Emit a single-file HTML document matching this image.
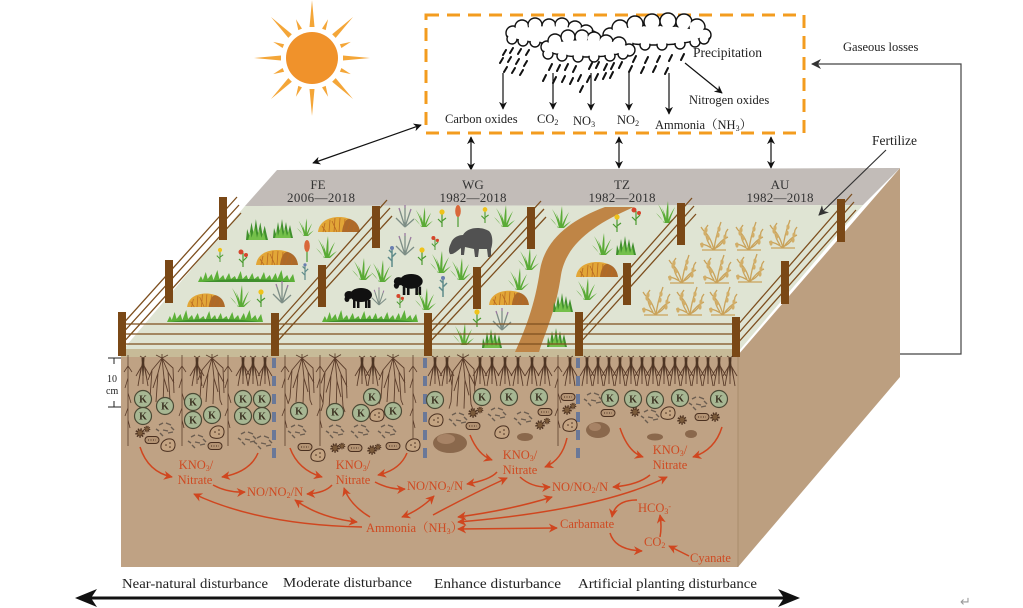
<!DOCTYPE html>
<html><head><meta charset="utf-8"><style>
html,body{margin:0;padding:0;background:#fff;}
svg{display:block;}
text{font-family:"Liberation Serif","Noto Serif CJK SC",serif;}
</style></head><body>
<svg width="1023" height="608" viewBox="0 0 1023 608" xmlns="http://www.w3.org/2000/svg">
<defs>
<marker id="ab" viewBox="0 0 10 10" refX="9" refY="5" markerWidth="8" markerHeight="8" markerUnits="userSpaceOnUse" orient="auto-start-reverse"><path d="M0,0 L10,5 L0,10 L3,5Z" fill="#111"/></marker>
<marker id="ag" viewBox="0 0 10 10" refX="9" refY="5" markerWidth="10" markerHeight="10" markerUnits="userSpaceOnUse" orient="auto-start-reverse"><path d="M0,0 L10,5 L0,10 L3,5Z" fill="#333"/></marker>
<marker id="ar" viewBox="0 0 10 10" refX="9" refY="5" markerWidth="9" markerHeight="9" markerUnits="userSpaceOnUse" orient="auto-start-reverse"><path d="M0,0 L10,5 L0,10 L3,5Z" fill="#d0461f"/></marker>

<g id="g"><path fill="#5aab36" d="M-1,0 Q-3,-10 -8,-19 Q-2,-11 1,0Z M0,0 Q0,-12 2,-22 Q3,-10 2,0Z M1,0 Q4,-9 9,-16 Q5,-7 3,0Z M-2,0 Q-5,-6 -10,-10 Q-5,-4 -1,0Z M2,0 Q6,-4 11,-7 Q6,-2 4,0Z M-1,0 Q-1,-8 -4,-15 Q0,-8 1,0Z"/></g>
<g id="b"><path fill="#3f8f2c" d="M-10,0 L-9,-10 L-7,-4 L-5,-16 L-3,-5 L-1,-19 L1,-6 L3,-16 L5,-5 L7,-13 L9,-4 L10,0Z"/><path fill="#74c04a" d="M-8,0 L-6,-8 L-5,-2 L-2,-12 L0,-2 L2,-10 L4,-2 L6,-8 L8,0Z"/></g>
<g id="d"><path fill="#e2a637" d="M-21,0 C-20,-10 -11,-15 0,-15 C11,-15 20,-10 21,0Z"/><path fill="#9a5527" opacity=".75" d="M3,0 C4,-8 7,-14 11,-13 C17,-11 20,-7 21,0Z"/><path fill="none" stroke="#b86a22" stroke-width=".8" d="M-16,0 L-14,-9 M-10,0 L-9,-12 M-5,0 L-4,-14 M0,0 L1,-14 M5,0 L6,-13 M-13,0 L-17,-6 M-2,0 L-7,-11 M8,0 L12,-12 M14,0 L16,-9"/></g>
<g id="L"><path fill="#5cb038" d="M0,0 L3,-6 L5,-2 L8,-10 L10,-3 L14,-8 L16,-2 L20,-12 L22,-3 L26,-7 L28,-2 L32,-9 L34,-3 L38,-6 L40,-2 L44,-11 L46,-3 L50,-7 L52,-2 L56,-9 L58,-3 L62,-6 L64,-2 L68,-10 L70,-3 L74,-7 L76,-2 L80,-9 L82,-3 L86,-12 L88,-3 L92,-7 L94,-2 L98,-8 L100,0Z"/><path fill="#3f8f2c" d="M4,0 C30,-4 70,-4 96,0Z"/></g>
<g id="fy"><path d="M0,0 L0,-14 M0,-4 L-4,-8 M0,-6 L4,-9" stroke="#4a9a30" stroke-width="1.2" fill="none"/><circle cx="0" cy="-15" r="2.6" fill="#efc21a"/></g>
<g id="fr"><path d="M0,0 L0,-14 M0,-4 L-4,-8 M0,-6 L4,-10" stroke="#4a9a30" stroke-width="1.2" fill="none"/><circle cx="-2" cy="-15" r="2.5" fill="#d6452c"/><circle cx="3" cy="-12" r="2" fill="#d6452c"/></g>
<g id="ft"><path d="M0,0 L0,-12" stroke="#4a9a30" stroke-width="1.2"/><ellipse cx="0" cy="-16" rx="2.8" ry="6" fill="#d9683a"/></g>
<g id="gp" fill="none" stroke="#7d8e86" stroke-width="1.3"><path d="M0,0 L-5,-16 M0,0 L0,-19 M0,0 L5,-15 M0,0 L-9,-9 M0,0 L9,-8"/><path stroke="#9a7aa0" d="M-5,-16 l-1,-3 M0,-19 l0,-3 M5,-15 l1,-3"/></g>
<g id="bp" fill="none" stroke="#5f8b8a" stroke-width="1.5"><path d="M0,0 L0,-18 M0,-6 L-4,-10 M0,-10 L4,-14 M0,-14 L-3,-17"/><circle cx="0" cy="-19" r="2" fill="#6a7fb0" stroke="none"/></g>
<g id="w" fill="none" stroke="#c9a25a" stroke-width="1.3"><path d="M0,0 C-2,-8 -5,-15 -11,-20 M0,0 C1,-9 3,-17 6,-25 M0,0 C4,-6 9,-11 14,-13 M0,0 C-5,-4 -10,-6 -14,-6 M-3,-3 C-7,-9 -9,-14 -8,-22 M2,-2 C7,-5 11,-9 12,-18 M-11,-20 l-2,-3 M6,-25 l1,-3 M-8,-22 l2,-3 M12,-18 l2,-3 M-12,0 L12,0"/><g fill="#d2ae68" stroke="none"><ellipse cx="-9" cy="-17" rx="1.6" ry="2.6"/><ellipse cx="-6" cy="-12" rx="1.6" ry="2.6"/><ellipse cx="5" cy="-21" rx="1.6" ry="2.6"/><ellipse cx="4" cy="-15" rx="1.6" ry="2.6"/><ellipse cx="11" cy="-13" rx="1.6" ry="2.6"/><ellipse cx="10" cy="-8" rx="1.6" ry="2.6"/><ellipse cx="-8" cy="-20" rx="1.6" ry="2.6"/><ellipse cx="-12" cy="-5" rx="1.6" ry="2.6"/></g></g>
<g id="sh" fill="#111"><ellipse cx="3" cy="-13" rx="11" ry="7"/><ellipse cx="-9" cy="-13" rx="4.5" ry="4"/><ellipse cx="-11" cy="-9" rx="2.5" ry="3"/><rect x="-5" y="-8" width="2.5" height="8"/><rect x="-1" y="-8" width="2.5" height="8"/><rect x="7" y="-8" width="2.5" height="8"/><rect x="10" y="-8" width="2.5" height="8"/></g>
<g id="yk" fill="#515151"><path d="M-20,-14 C-18,-20 -12,-22 -8,-22 C-4,-30 10,-31 18,-26 C22,-22 22,-14 20,-8 L20,0 L17,0 L16,-8 L8,-8 L7,0 L4,0 L3,-8 L-6,-10 L-7,-2 L-10,-2 L-10,-9 C-14,-6 -18,-2 -21,-3 C-23,-6 -22,-10 -20,-14Z"/></g>

<g id="rf" stroke="#4a2c1c" stroke-width=".9" fill="none"><path d="M0,0 L0,26 M0,2 L-4,22 M0,2 L4,22 M0,6 L-7,18 M0,6 L7,18 M-2,10 L-5,28 M2,10 L5,28 M-3,-2 L0,0 L3,-2"/><path d="M-1.5,0 L1.5,0 L0.5,18 L-0.5,18Z" fill="#3a2214" stroke="none"/></g>
<g id="rb" stroke="#4a2c1c" stroke-width=".9" fill="none"><path d="M0,0 L-10,12 L-12,40 M0,0 L-4,15 L-6,44 M0,0 L2,20 L1,46 M0,0 L6,14 L8,42 M0,0 L11,10 L12,35 M-10,12 L-14,22 M6,14 L12,25 M-4,15 L-9,30 M2,20 L6,34 M-6,-3 L0,0 L6,-3 M0,0 L0,-4 M-12,40 l-2,6 M8,42 l2,5"/></g>
<g id="rt" stroke="#4a2c1c" stroke-width=".8" fill="none"><path d="M0,-3 L0,88 M0,20 L-3,30 M0,35 L3,45 M0,50 L-3,58 M0,62 L2,70 M0,8 L-4,14 M0,8 L4,14"/></g>

<g id="K"><circle r="8.5" fill="#a7b793" stroke="#4b4a35" stroke-width="1.2"/><text x="0" y="3.5" font-size="10" font-weight="bold" text-anchor="middle" fill="#3a3020">K</text></g>
<g id="rods" stroke="#6b5d50" stroke-width="1.4" fill="none"><path d="M-6,-3 l4,-2 M-2,2 l5,1 M1,-5 l5,2 M-5,5 l3,3 M3,5 l5,-1 M-9,1 l3,2 M6,-1 l3,3"/></g>
<g id="pill"><rect x="-7" y="-3.5" width="14" height="7" rx="3.5" fill="#b39373" stroke="#4a3020" stroke-width="1"/><path d="M-4,0 h8" stroke="#4a3020" stroke-dasharray="1 1.5"/></g>
<g id="am"><path d="M-7,3 C-8,-3 -2,-7 3,-6 C8,-5 8,2 5,5 C2,7 -6,7 -7,3Z" fill="#c4a482" stroke="#4a3020" stroke-width="1"/><circle cx="-2" cy="0" r=".8" fill="#4a3020"/><circle cx="2" cy="-2" r=".8" fill="#4a3020"/><circle cx="2" cy="2" r=".8" fill="#4a3020"/></g>
<g id="vir"><circle r="3.5" fill="#7a5a3a" stroke="#4a3020" stroke-width="2.5" stroke-dasharray="1.2 1.2"/></g>
</defs>

<rect width="1023" height="608" fill="#fff"/>

<!-- Sun -->
<g transform="translate(312,58)" fill="#f4a638">
<path d="M-2.5,-31 L0,-58 L2.5,-31Z"/><path d="M-2,-31 L0,-42 L2,-31Z" transform="rotate(22.5)"/>
<path d="M-2.5,-31 L0,-58 L2.5,-31Z" transform="rotate(45)"/><path d="M-2,-31 L0,-42 L2,-31Z" transform="rotate(67.5)"/>
<path d="M-2.5,-31 L0,-58 L2.5,-31Z" transform="rotate(90)"/><path d="M-2,-31 L0,-42 L2,-31Z" transform="rotate(112.5)"/>
<path d="M-2.5,-31 L0,-58 L2.5,-31Z" transform="rotate(135)"/><path d="M-2,-31 L0,-42 L2,-31Z" transform="rotate(157.5)"/>
<path d="M-2.5,-31 L0,-58 L2.5,-31Z" transform="rotate(180)"/><path d="M-2,-31 L0,-42 L2,-31Z" transform="rotate(202.5)"/>
<path d="M-2.5,-31 L0,-58 L2.5,-31Z" transform="rotate(225)"/><path d="M-2,-31 L0,-42 L2,-31Z" transform="rotate(247.5)"/>
<path d="M-2.5,-31 L0,-58 L2.5,-31Z" transform="rotate(270)"/><path d="M-2,-31 L0,-42 L2,-31Z" transform="rotate(292.5)"/>
<path d="M-2.5,-31 L0,-58 L2.5,-31Z" transform="rotate(315)"/><path d="M-2,-31 L0,-42 L2,-31Z" transform="rotate(337.5)"/>
<circle r="26" fill="#f0922b"/>
</g>

<!-- Atmosphere box -->
<rect x="426" y="15" width="378" height="118" fill="none" stroke="#f39c1f" stroke-width="3" stroke-dasharray="13 8"/>

<!-- clouds: A -->
<g stroke="#111" stroke-width="1.4" fill="#fff">
<ellipse cx="548" cy="34" rx="40" ry="9"/>
<circle cx="513" cy="33" r="7"/><circle cx="522" cy="27" r="7"/><circle cx="535" cy="25" r="7"/><circle cx="549" cy="26" r="7"/><circle cx="562" cy="25" r="7"/><circle cx="575" cy="28" r="7"/><circle cx="586" cy="32" r="7"/><circle cx="592" cy="37" r="6"/>
<circle cx="512" cy="39" r="5"/><circle cx="523" cy="41" r="5"/><circle cx="535" cy="42" r="5"/><circle cx="550" cy="42" r="5"/><circle cx="565" cy="42" r="5"/><circle cx="580" cy="41" r="5"/>
</g>
<g fill="#fff">
<ellipse cx="548" cy="34" rx="38.8" ry="7.8"/>
<circle cx="513" cy="33" r="5.8"/><circle cx="522" cy="27" r="5.8"/><circle cx="535" cy="25" r="5.8"/><circle cx="549" cy="26" r="5.8"/><circle cx="562" cy="25" r="5.8"/><circle cx="575" cy="28" r="5.8"/><circle cx="586" cy="32" r="5.8"/><circle cx="592" cy="37" r="4.8"/>
<circle cx="512" cy="39" r="3.8"/><circle cx="523" cy="41" r="3.8"/><circle cx="535" cy="42" r="3.8"/><circle cx="550" cy="42" r="3.8"/><circle cx="565" cy="42" r="3.8"/><circle cx="580" cy="41" r="3.8"/>
</g>
<!-- C -->
<g stroke="#111" stroke-width="1.4" fill="#fff">
<ellipse cx="655" cy="35" rx="48" ry="10"/>
<circle cx="610" cy="35" r="7"/><circle cx="620" cy="28" r="8"/><circle cx="635" cy="24" r="8"/><circle cx="652" cy="22" r="8"/><circle cx="668" cy="21" r="8"/><circle cx="684" cy="22" r="8"/><circle cx="697" cy="27" r="8"/><circle cx="705" cy="35" r="6"/>
<circle cx="612" cy="41" r="5"/><circle cx="628" cy="44" r="5"/><circle cx="645" cy="45" r="5"/><circle cx="662" cy="45" r="5"/><circle cx="680" cy="44" r="5"/><circle cx="695" cy="42" r="5"/><circle cx="704" cy="39" r="5"/>
</g>
<g fill="#fff">
<ellipse cx="655" cy="35" rx="46.8" ry="8.8"/>
<circle cx="610" cy="35" r="5.8"/><circle cx="620" cy="28" r="6.8"/><circle cx="635" cy="24" r="6.8"/><circle cx="652" cy="22" r="6.8"/><circle cx="668" cy="21" r="6.8"/><circle cx="684" cy="22" r="6.8"/><circle cx="697" cy="27" r="6.8"/><circle cx="705" cy="35" r="4.8"/>
<circle cx="612" cy="41" r="3.8"/><circle cx="628" cy="44" r="3.8"/><circle cx="645" cy="45" r="3.8"/><circle cx="662" cy="45" r="3.8"/><circle cx="680" cy="44" r="3.8"/><circle cx="695" cy="42" r="3.8"/><circle cx="704" cy="39" r="3.8"/>
</g>
<!-- B -->
<g stroke="#111" stroke-width="1.4" fill="#fff">
<ellipse cx="587" cy="48" rx="42" ry="9"/>
<circle cx="547" cy="47" r="6"/><circle cx="555" cy="41" r="7"/><circle cx="568" cy="37" r="7"/><circle cx="582" cy="37" r="7"/><circle cx="594" cy="39" r="7"/><circle cx="606" cy="42" r="7"/><circle cx="619" cy="44" r="7"/><circle cx="629" cy="50" r="6"/>
<circle cx="548" cy="54" r="5"/><circle cx="562" cy="56" r="5"/><circle cx="578" cy="57" r="5"/><circle cx="594" cy="57" r="5"/><circle cx="610" cy="56" r="5"/><circle cx="623" cy="54" r="5"/>
</g>
<g fill="#fff">
<ellipse cx="587" cy="48" rx="40.8" ry="7.8"/>
<circle cx="547" cy="47" r="4.8"/><circle cx="555" cy="41" r="5.8"/><circle cx="568" cy="37" r="5.8"/><circle cx="582" cy="37" r="5.8"/><circle cx="594" cy="39" r="5.8"/><circle cx="606" cy="42" r="5.8"/><circle cx="619" cy="44" r="5.8"/><circle cx="629" cy="50" r="4.8"/>
<circle cx="548" cy="54" r="3.8"/><circle cx="562" cy="56" r="3.8"/><circle cx="578" cy="57" r="3.8"/><circle cx="594" cy="57" r="3.8"/><circle cx="610" cy="56" r="3.8"/><circle cx="623" cy="54" r="3.8"/>
</g>

<!-- rain -->
<g stroke="#111" stroke-width="2" stroke-linecap="round">
<path d="M506,50 l-3,5 M513,48 l-3,5 M521,49 l-3,5 M529,50 l-3,5 M503,58 l-3,5 M511,57 l-3,5 M519,59 l-3,5 M527,61 l-3,5 M507,67 l-3,5 M515,68 l-3,5 M523,70 l-3,5 M552,64 l-3,6 M560,65 l-3,6 M568,64 l-3,6 M576,66 l-3,6 M546,75 l-3,6 M556,77 l-3,6 M565,76 l-3,6 M573,78 l-3,6 M581,75 l-3,6 M592,63 l-3,6 M599,62 l-3,6 M607,64 l-3,6 M614,63 l-3,6 M622,62 l-3,6 M590,76 l-3,6 M598,74 l-3,6 M606,73 l-3,6 M613,72 l-3,6 M583,86 l-3,6 M636,56 l-3,6 M648,57 l-3,6 M660,56 l-3,6 M672,55 l-3,6 M684,54 l-3,6 M632,66 l-3,6 M644,67 l-3,6 M656,66 l-3,6 M668,68 l-3,6"/>
</g>
<g stroke="#111" stroke-width="1.2" fill="none" marker-end="url(#ab)">
<path d="M503,73 L503,109"/><path d="M553,73 L553,109"/><path d="M591,73 L591,110"/><path d="M629,73 L629,110"/><path d="M669,73 L669,114"/><path d="M685,63 L722,93"/>
</g>
<g font-size="12.5" fill="#222">
<text x="693" y="57" font-size="13.5">Precipitation</text>
<text x="689" y="104">Nitrogen oxides</text>
<text x="445" y="123">Carbon oxides</text>
<text x="537" y="123">CO<tspan font-size="8" dy="2">2</tspan></text>
<text x="573" y="125">NO<tspan font-size="8" dy="2">3</tspan></text>
<text x="617" y="124">NO<tspan font-size="8" dy="2">2</tspan></text>
<text x="655" y="129">Ammonia（NH<tspan font-size="8" dy="2">3</tspan><tspan dy="-2">）</tspan></text>
</g>

<!-- connection arrows -->
<g stroke="#111" stroke-width="1.2" fill="none" marker-start="url(#ab)" marker-end="url(#ab)">
<path d="M313,163 L421,125"/><path d="M471,137 L471,170"/><path d="M619,137 L619,168"/><path d="M771,137 L771,168"/>
</g>
<text x="843" y="51" font-size="12.5" fill="#222">Gaseous losses</text>
<path d="M900,354 L961,354 L961,64 L812,64" fill="none" stroke="#444" stroke-width="1.2" marker-end="url(#ag)"/>
<text x="872" y="145" font-size="13.5" fill="#222">Fertilize</text>

<!-- Block -->
<polygon points="900,168 900,377 738,567 738,355" fill="#bc9f80"/>
<rect x="121" y="355" width="617" height="212" fill="#bfa284"/>
<line x1="738" y1="355" x2="738" y2="567" stroke="#a88c6c" stroke-width="1"/>
<polygon points="277,170 900,168 863,205 245,206" fill="#c2bcb8"/>
<polygon points="245,206 863,205 738,352 121,352" fill="#dfe4d3"/>
<rect x="121" y="349" width="617" height="8" fill="#c7bb98"/>

<!-- band labels -->
<g font-size="13" fill="#333" text-anchor="middle">
<text x="318" y="189">FE</text><text x="321" y="202" textLength="68">2006—2018</text>
<text x="473" y="189">WG</text><text x="473" y="202" textLength="67">1982—2018</text>
<text x="622" y="189">TZ</text><text x="622" y="202" textLength="67">1982—2018</text>
<text x="780" y="189">AU</text><text x="780" y="202" textLength="67">1982—2018</text>
</g>

<!-- road -->
<path d="M605,207 L634,207 C592,225 566,245 561,275 C556,310 546,330 539,352 L515,352 C525,330 535,305 540,270 C545,240 570,220 605,207Z" fill="#bf8546"/>

<!-- vegetation FE -->
<use href="#b" transform="translate(257,240) scale(1.1)"/>
<use href="#b" transform="translate(283,238)"/>
<use href="#g" transform="translate(305,236) scale(.8)"/>
<use href="#d" transform="translate(339,232)"/>
<use href="#fy" transform="translate(220,262) scale(.8)"/>
<use href="#fr" transform="translate(243,267)"/>
<use href="#d" transform="translate(277,265)"/>
<use href="#ft" transform="translate(307,262)"/>
<use href="#g" transform="translate(326,258)"/>
<use href="#L" transform="translate(198,282) scale(.97,1)"/>
<use href="#bp" transform="translate(305,280) scale(.8)"/>
<use href="#d" transform="translate(206,307) scale(.9)"/>
<use href="#g" transform="translate(240,307)"/>
<use href="#fy" transform="translate(261,307)"/>
<use href="#gp" transform="translate(282,303)"/>
<use href="#L" transform="translate(167,322) scale(.96,1)"/>
<!-- WG -->
<use href="#gp" transform="translate(405,227)"/>
<use href="#g" transform="translate(423,227) scale(.9)"/>
<use href="#fy" transform="translate(442,227)"/>
<use href="#ft" transform="translate(458,227)"/>
<use href="#fy" transform="translate(485,223) scale(.9)"/>
<use href="#g" transform="translate(504,227)"/>
<use href="#bp" transform="translate(392,267)"/>
<use href="#gp" transform="translate(405,255)"/>
<use href="#fr" transform="translate(435,250) scale(.8)"/>
<use href="#fy" transform="translate(422,265)"/>
<use href="#yk" transform="translate(471,257)"/>
<use href="#g" transform="translate(440,273)"/>
<use href="#g" transform="translate(460,280)"/>
<use href="#bp" transform="translate(443,297)"/>
<use href="#g" transform="translate(528,270)"/>
<use href="#g" transform="translate(362,280)"/>
<use href="#g" transform="translate(381,282)"/>
<use href="#L" transform="translate(322,322) scale(.96,1)"/>
<use href="#sh" transform="translate(358,308)"/>
<use href="#sh" transform="translate(408,295) scale(1.05)"/>
<use href="#gp" transform="translate(379,305) scale(.8)"/>
<use href="#fr" transform="translate(400,308) scale(.8)"/>
<use href="#g" transform="translate(425,310)"/>
<!-- TZ -->
<use href="#g" transform="translate(560,228)"/>
<use href="#g" transform="translate(518,290)"/>
<use href="#d" transform="translate(509,305) scale(.95)"/>
<use href="#gp" transform="translate(502,330)"/>
<use href="#fy" transform="translate(477,327)"/>
<use href="#g" transform="translate(463,345)"/>
<use href="#b" transform="translate(492,348)"/>
<use href="#fy" transform="translate(617,232)"/>
<use href="#fr" transform="translate(636,225)"/>
<use href="#g" transform="translate(602,255)"/>
<use href="#b" transform="translate(626,255)"/>
<use href="#d" transform="translate(597,277)"/>
<use href="#g" transform="translate(586,300)"/>
<use href="#b" transform="translate(563,312)"/>
<use href="#b" transform="translate(557,347)"/>
<use href="#g" transform="translate(666,223)"/>
<!-- AU wheat -->
<use href="#w" transform="translate(714,250)"/>
<use href="#w" transform="translate(749,250)"/>
<use href="#w" transform="translate(783,248)"/>
<use href="#w" transform="translate(682,283)"/>
<use href="#w" transform="translate(717,283)"/>
<use href="#w" transform="translate(750,282)"/>
<use href="#w" transform="translate(656,315)"/>
<use href="#w" transform="translate(690,315)"/>
<use href="#w" transform="translate(723,315)"/>

<!-- Fertilize arrow (over surface) -->
<path d="M886,150 L819,215" fill="none" stroke="#333" stroke-width="1.2" marker-end="url(#ag)"/>

<!-- fences -->
<g stroke="#7d4f1f" stroke-width="1.3" fill="none">
<path d="M120,327 L237,197 M120,336 L239,205 M121,345 L241,213"/>
<path d="M274,327 L387,200 M274,336 L390,208 M274,345 L392,216"/>
<path d="M427,327 L541,201 M427,336 L544,209 M427,345 L546,217"/>
<path d="M578,327 L692,198 M578,336 L694,206 M578,345 L696,214"/>
<path d="M736,327 L852,194 M736,336 L854,202 M736,345 L856,210"/>
<path d="M118,324 L740,324 M118,334 L740,334 M118,344 L740,344"/>
</g>
<g fill="#7a4816">
<rect x="118" y="312" width="8" height="44"/><rect x="165" y="260" width="8" height="43"/><rect x="219" y="197" width="8" height="43"/>
<rect x="271" y="313" width="8" height="43"/><rect x="318" y="265" width="8" height="42"/><rect x="372" y="206" width="8" height="42"/>
<rect x="424" y="313" width="8" height="43"/><rect x="473" y="267" width="8" height="42"/><rect x="527" y="207" width="8" height="42"/>
<rect x="575" y="312" width="8" height="44"/><rect x="623" y="263" width="8" height="42"/><rect x="677" y="203" width="8" height="42"/>
<rect x="732" y="317" width="8" height="40"/><rect x="781" y="261" width="8" height="43"/><rect x="837" y="199" width="8" height="43"/>
</g>

<!-- 10 cm scale -->
<g stroke="#222" stroke-width="1" fill="none"><path d="M108,358 L121,358 M114,358 L114,364 M108,407 L121,407 M114,401 L114,407"/></g>
<text x="107" y="382" font-size="10" fill="#222">10</text>
<text x="106" y="394" font-size="10" fill="#222">cm</text>

<!-- separators -->
<g stroke="#6a7898" stroke-width="4" stroke-dasharray="10 8"><path d="M274,358 L274,462 M425,358 L425,462 M578,358 L578,462"/></g>

<!-- roots -->
<g opacity=".85">
<use href="#rt" transform="translate(128,358)"/><use href="#rf" transform="translate(143,358)"/><use href="#rb" transform="translate(162,358)"/><use href="#rt" transform="translate(182,358)"/><use href="#rf" transform="translate(197,358)"/><use href="#rb" transform="translate(212,358)"/><use href="#rt" transform="translate(228,358)"/><use href="#rf" transform="translate(243,358)"/><use href="#rf" transform="translate(253,358)"/><use href="#rf" transform="translate(265,358)"/>
<use href="#rt" transform="translate(285,358)"/><use href="#rb" transform="translate(302,358)"/><use href="#rt" transform="translate(320,358)"/><use href="#rb" transform="translate(335,358) scale(1,1.15)"/><use href="#rf" transform="translate(362,358)"/><use href="#rf" transform="translate(373,358)"/><use href="#rb" transform="translate(393,358)"/><use href="#rt" transform="translate(413,358)"/>
<use href="#rf" transform="translate(435,358)"/><use href="#rf" transform="translate(447,358)"/><use href="#rb" transform="translate(463,358) scale(1,1.1)"/><use href="#rf" transform="translate(480,358)"/><use href="#rf" transform="translate(492,358)"/><use href="#rf" transform="translate(505,358)"/><use href="#rf" transform="translate(518,358)"/><use href="#rf" transform="translate(532,358)"/><use href="#rf" transform="translate(545,358)"/><use href="#rt" transform="translate(558,358)"/><use href="#rf" transform="translate(570,358)"/>
<use href="#rf" transform="translate(587,358)"/><use href="#rf" transform="translate(598,358)"/><use href="#rf" transform="translate(609,358)"/><use href="#rf" transform="translate(620,358)"/><use href="#rf" transform="translate(631,358)"/><use href="#rf" transform="translate(642,358)"/><use href="#rf" transform="translate(653,358)"/><use href="#rf" transform="translate(664,358)"/><use href="#rf" transform="translate(675,358)"/><use href="#rf" transform="translate(686,358)"/><use href="#rf" transform="translate(697,358)"/><use href="#rf" transform="translate(708,358)"/><use href="#rf" transform="translate(719,358)"/><use href="#rf" transform="translate(730,358)"/>
</g>

<!-- K circles -->
<g>
<use href="#K" transform="translate(143,399)"/><use href="#K" transform="translate(165,406)"/><use href="#K" transform="translate(143,416)"/><use href="#K" transform="translate(193,402)"/><use href="#K" transform="translate(193,420)"/><use href="#K" transform="translate(212,415)"/><use href="#K" transform="translate(243,399)"/><use href="#K" transform="translate(262,399)"/><use href="#K" transform="translate(243,416)"/><use href="#K" transform="translate(262,416)"/>
<use href="#K" transform="translate(299,411)"/><use href="#K" transform="translate(335,412)"/><use href="#K" transform="translate(361,413)"/><use href="#K" transform="translate(372,397)"/><use href="#K" transform="translate(393,411)"/>
<use href="#K" transform="translate(435,400)"/><use href="#K" transform="translate(482,397)"/><use href="#K" transform="translate(509,397)"/><use href="#K" transform="translate(539,397)"/>
<use href="#K" transform="translate(610,398)"/><use href="#K" transform="translate(633,399)"/><use href="#K" transform="translate(655,400)"/><use href="#K" transform="translate(680,398)"/><use href="#K" transform="translate(719,399)"/>
</g>

<!-- microbes -->
<g>
<use href="#vir" transform="translate(140,433)"/><use href="#vir" transform="translate(147,429) scale(.7)"/><use href="#pill" transform="translate(152,440)"/><use href="#am" transform="translate(168,445)"/><use href="#rods" transform="translate(165,428)"/><use href="#rods" transform="translate(197,440)"/><use href="#am" transform="translate(217,432)"/><use href="#pill" transform="translate(215,446)"/><use href="#rods" transform="translate(247,437)"/><use href="#rods" transform="translate(263,441)"/>
<use href="#rods" transform="translate(297,430)"/><use href="#pill" transform="translate(305,447)"/><use href="#am" transform="translate(318,455)"/><use href="#rods" transform="translate(335,430)"/><use href="#vir" transform="translate(335,448)"/><use href="#vir" transform="translate(342,446) scale(.7)"/><use href="#pill" transform="translate(355,448)"/><use href="#vir" transform="translate(372,450)"/><use href="#vir" transform="translate(378,447) scale(.7)"/><use href="#pill" transform="translate(393,446)"/><use href="#am" transform="translate(413,445)"/><use href="#am" transform="translate(377,415)"/><use href="#rods" transform="translate(360,430)"/><use href="#rods" transform="translate(387,430)"/>
<use href="#am" transform="translate(436,420)"/><use href="#rods" transform="translate(458,418)"/><use href="#vir" transform="translate(473,413)"/><use href="#vir" transform="translate(480,410) scale(.7)"/><use href="#pill" transform="translate(473,426)"/><use href="#rods" transform="translate(497,413)"/><use href="#rods" transform="translate(523,417)"/><use href="#pill" transform="translate(545,412)"/><use href="#vir" transform="translate(540,425)"/><use href="#vir" transform="translate(547,421) scale(.7)"/><use href="#am" transform="translate(502,432)"/><use href="#am" transform="translate(570,425)"/><use href="#pill" transform="translate(568,397)"/><use href="#vir" transform="translate(567,410)"/><use href="#vir" transform="translate(573,406) scale(.7)"/>
<use href="#rods" transform="translate(593,398)"/><use href="#pill" transform="translate(608,413)"/><use href="#rods" transform="translate(650,415)"/><use href="#vir" transform="translate(635,412)"/><use href="#am" transform="translate(668,413)"/><use href="#vir" transform="translate(682,420)"/><use href="#pill" transform="translate(702,417)"/><use href="#vir" transform="translate(715,417)"/><use href="#rods" transform="translate(698,402)"/>
</g>

<!-- rocks -->
<g fill="#8a684c">
<ellipse cx="450" cy="443" rx="17" ry="10"/><ellipse cx="598" cy="430" rx="12" ry="8"/><ellipse cx="525" cy="437" rx="8" ry="4"/><ellipse cx="655" cy="437" rx="8" ry="3.5"/><ellipse cx="691" cy="434" rx="6" ry="4"/>
</g>
<g fill="#a78366"><ellipse cx="446" cy="439" rx="9" ry="5"/><ellipse cx="595" cy="427" rx="6" ry="4"/></g>

<!-- soil chemistry arrows -->
<g stroke="#d0461f" stroke-width="1.5" fill="none">
<path d="M140,447 Q148,472 172,477" marker-end="url(#ar)"/>
<path d="M258,453 Q250,472 222,477" marker-end="url(#ar)"/>
<path d="M213,485 Q228,493 245,492" marker-end="url(#ar)"/>
<path d="M332,485 Q325,493 307,494" marker-end="url(#ar)"/>
<path d="M362,527 Q260,525 194,494" marker-end="url(#ar)"/>
<path d="M295,500 Q320,518 357,522" marker-start="url(#ar)" marker-end="url(#ar)"/>
<path d="M290,448 Q298,470 322,477" marker-end="url(#ar)"/>
<path d="M407,453 Q400,470 378,475" marker-end="url(#ar)"/>
<path d="M375,482 Q390,490 405,489" marker-end="url(#ar)"/>
<path d="M370,517 Q350,505 344,488" marker-end="url(#ar)"/>
<path d="M402,517 Q420,510 434,496" marker-start="url(#ar)" marker-end="url(#ar)"/>
<path d="M497,472 Q490,480 467,484" marker-end="url(#ar)"/>
<path d="M433,515 Q470,495 507,478" marker-end="url(#ar)"/>
<path d="M470,435 Q478,455 492,460" marker-end="url(#ar)"/>
<path d="M567,438 Q562,460 545,467" marker-end="url(#ar)"/>
<path d="M520,477 Q532,488 550,487" marker-end="url(#ar)"/>
<path d="M458,517 Q510,510 552,497" marker-start="url(#ar)" marker-end="url(#ar)"/>
<path d="M458,522 Q600,510 667,477" marker-start="url(#ar)" marker-end="url(#ar)"/>
<path d="M458,529 L557,528" marker-start="url(#ar)" marker-end="url(#ar)"/>
<path d="M650,475 Q638,485 613,487" marker-end="url(#ar)"/>
<path d="M620,428 Q628,452 643,457" marker-end="url(#ar)"/>
<path d="M722,427 Q715,450 693,457" marker-end="url(#ar)"/>
<path d="M637,500 Q615,500 612,517" marker-end="url(#ar)"/>
<path d="M660,537 Q662,527 660,515" marker-end="url(#ar)"/>
<path d="M610,533 Q615,550 642,551" marker-end="url(#ar)"/>
<path d="M689,556 L669,546" marker-end="url(#ar)"/>
</g>
<g font-size="12.5" fill="#cf4a22" text-anchor="middle">
<text x="196" y="469">KNO<tspan font-size="8" dy="2">3</tspan><tspan dy="-2">/</tspan></text>
<text x="195" y="484">Nitrate</text>
<text x="353" y="469">KNO<tspan font-size="8" dy="2">3</tspan><tspan dy="-2">/</tspan></text>
<text x="353" y="484">Nitrate</text>
<text x="520" y="459">KNO<tspan font-size="8" dy="2">3</tspan><tspan dy="-2">/</tspan></text>
<text x="520" y="474">Nitrate</text>
<text x="670" y="454">KNO<tspan font-size="8" dy="2">3</tspan><tspan dy="-2">/</tspan></text>
<text x="670" y="469">Nitrate</text>
</g>
<g font-size="12.5" fill="#cf4a22">
<text x="247" y="496">NO/NO<tspan font-size="8" dy="2">2</tspan><tspan dy="-2">/N</tspan></text>
<text x="407" y="490">NO/NO<tspan font-size="8" dy="2">2</tspan><tspan dy="-2">/N</tspan></text>
<text x="552" y="491">NO/NO<tspan font-size="8" dy="2">2</tspan><tspan dy="-2">/N</tspan></text>
<text x="366" y="532">Ammonia（NH<tspan font-size="8" dy="2">3</tspan><tspan dy="-2">）</tspan></text>
<text x="638" y="512">HCO<tspan font-size="8" dy="2">3</tspan><tspan font-size="8" dy="-5">-</tspan></text>
<text x="560" y="528">Carbamate</text>
<text x="644" y="546">CO<tspan font-size="8" dy="2">2</tspan></text>
<text x="690" y="562">Cyanate</text>
</g>

<!-- bottom scale -->
<g font-size="13.5" fill="#222">
<text x="122" y="588" textLength="146" lengthAdjust="spacingAndGlyphs">Near-natural disturbance</text>
<text x="283" y="587" textLength="129" lengthAdjust="spacingAndGlyphs">Moderate disturbance</text>
<text x="434" y="588" textLength="127" lengthAdjust="spacingAndGlyphs">Enhance  disturbance</text>
<text x="578" y="588" textLength="179" lengthAdjust="spacingAndGlyphs">Artificial planting disturbance</text>
</g>
<line x1="88" y1="598" x2="787" y2="598" stroke="#111" stroke-width="3"/>
<path d="M75,598 L97,589 L91,598 L97,607Z" fill="#111"/>
<path d="M800,598 L778,589 L784,598 L778,607Z" fill="#111"/>
<text x="960" y="606" font-size="13" fill="#999">↵</text>
</svg>
</body></html>
